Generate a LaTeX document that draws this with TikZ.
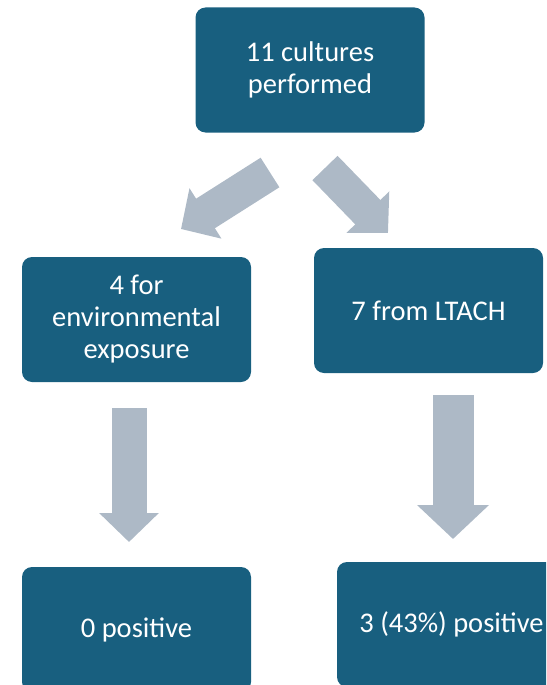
\documentclass[tikz,border=0pt]{standalone}
\usepackage{fontspec}
\setmainfont{Carlito}
\usetikzlibrary{arrows.meta}
\definecolor{boxblue}{RGB}{24,95,127}
\definecolor{arrowgray}{RGB}{173,185,198}
\begin{document}
\begin{tikzpicture}[x=1pt, y=-1pt,
  box/.style={fill=boxblue, text=white, rounded corners=10pt, align=center, inner sep=0pt,
    minimum width=229pt, minimum height=125pt, font=\fontsize{28.5}{32}\selectfont},
  blockarrow/.style={arrowgray, line width=35pt, -{Triangle[width=58pt, length=29pt]}},
  bigblockarrow/.style={arrowgray, line width=41pt, -{Triangle[width=70pt, length=34pt]}}]
\clip (0,0) rectangle (546,685);
\node[box] (cultures) at (310,70) {11 cultures\\performed};
\node[box] (envexp) at (136.5,319.5) {4 for\\environmental\\exposure};
\node[box] (ltach) at (428.5,310.5) {7 from LTACH};
\node[box] (envpos) at (136.5,629.5) {0 positive};
\node[box] (ltachpos) at (451.5,624.5) {3 (43\%) positive};
\coordinate (leftfrom) at (270,172.5);
\coordinate (leftto) at (181,229);
\coordinate (rightfrom) at (325,168);
\coordinate (rightto) at (388,233);
\coordinate (envfrom) at (129,408);
\coordinate (envto) at (129,542);
\coordinate (ltachfrom) at (453,395);
\coordinate (ltachto) at (453,539);
\draw[blockarrow] (leftfrom) -- (leftto);
\draw[blockarrow] (rightfrom) -- (rightto);
\draw[blockarrow] (envfrom) -- (envto);
\draw[bigblockarrow] (ltachfrom) -- (ltachto);
\end{tikzpicture}
\end{document}
